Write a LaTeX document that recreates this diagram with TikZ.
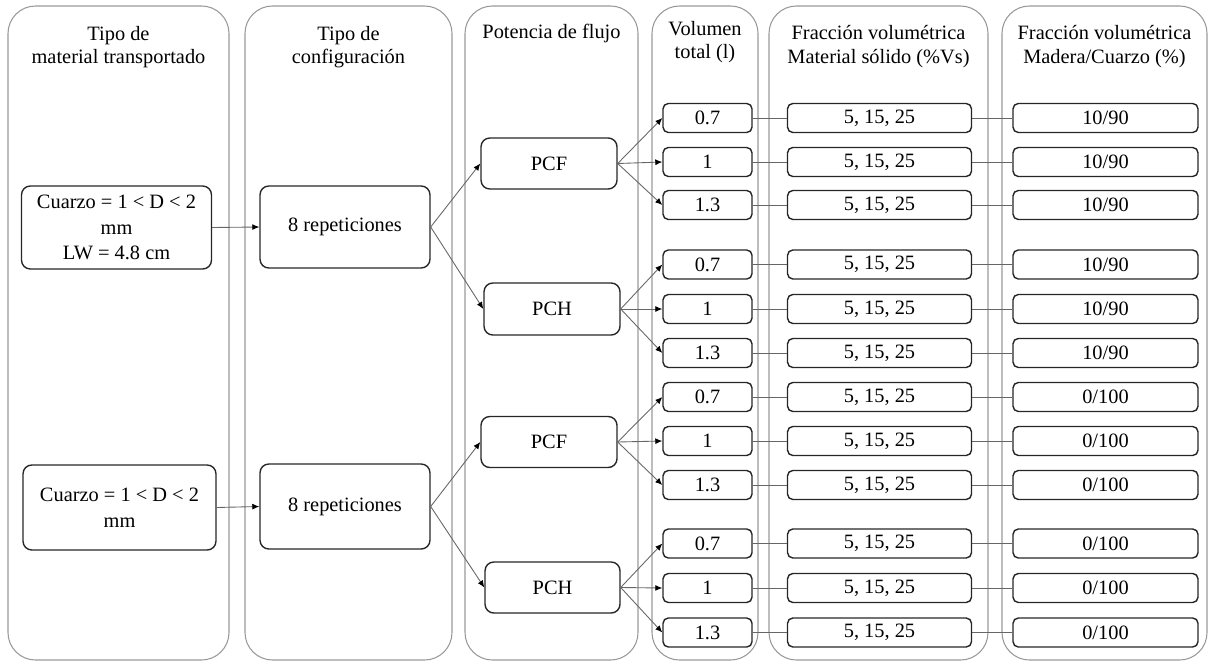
\documentclass[tikz,border=0pt]{standalone}
\usepackage{fontspec}
\setmainfont{Liberation Serif}
\usetikzlibrary{arrows.meta}
\begin{document}
\begin{tikzpicture}[x=0.02cm,y=-0.02cm,
  col/.style={draw=black!40, line width=0.6pt, rounded corners=0.55cm},
  head/.style={align=center, inner sep=0pt, font=\fontsize{11.6pt}{13.4pt}\selectfont},
  bigbox/.style={draw=black!85, line width=0.8pt, rounded corners=5pt, inner sep=0pt, align=center, font=\fontsize{11.6pt}{14.6pt}\selectfont},
  sbox/.style={draw=black!85, line width=0.8pt, rounded corners=3pt, inner sep=0pt, minimum height=0.58cm, align=center, font=\fontsize{11.6pt}{13.4pt}\selectfont},
  conn/.style={draw=black!60, line width=0.5pt},
  arr/.style={conn, -{Latex[length=4pt,width=3.4pt,color=black]}}]
\useasboundingbox (0,0) rectangle (1209,662);
% columns
\draw[col] (8,6) rectangle (229,660);
\draw[col] (245,6) rectangle (452,660);
\draw[col] (465,6) rectangle (638,660);
\draw[col] (652,6) rectangle (758,660);
\draw[col] (769,6) rectangle (988,660);
\draw[col] (1002,6) rectangle (1207,660);
% headers
\node[head] (h1) at (118.5,47) {Tipo de\\material transportado};
\node[head] (h2) at (348.5,47) {Tipo de\\configuración};
\node[head] (h3) at (551.5,33) {Potencia de flujo};
\node[head] (h4) at (705,42) {Volumen\\total (l)};
\node[head] (h5) at (878.5,46.5) {Fracción volumétrica\\Material sólido (\%Vs)};
\node[head] (h6) at (1104.5,46.5) {Fracción volumétrica\\Madera/Cuarzo (\%)};
% column 1
\node[bigbox, minimum width=3.8cm, minimum height=1.66cm] (m1) at (116.5,227.5) {Cuarzo = 1 < D < 2\\mm\\LW = 4.8 cm};
\node[bigbox, minimum width=3.86cm, minimum height=1.7cm] (m2) at (119.5,507.5) {Cuarzo = 1 < D < 2\\mm};
% column 2
\node[bigbox, minimum width=3.4cm, minimum height=1.64cm] (c1) at (345,227) {8 repeticiones};
\node[bigbox, minimum width=3.4cm, minimum height=1.7cm] (c2) at (345,506.5) {8 repeticiones};
% column 3
\node[bigbox, minimum width=2.72cm, minimum height=1.02cm] (p1) at (549,163.5) {PCF};
\node[bigbox, minimum width=2.72cm, minimum height=1.04cm] (p2) at (552,309) {PCH};
\node[bigbox, minimum width=2.72cm, minimum height=1.02cm] (p3) at (549,442) {PCF};
\node[bigbox, minimum width=2.7cm, minimum height=1.02cm] (p4) at (552.5,587.5) {PCH};
% rows
\foreach \y/\v [count=\i] in {118/0.7,162/1,205/1.3,264.5/0.7,309/1,353/1.3}{
  \node[sbox, minimum width=1.78cm] (v\i) at (707.5,\y) {\v};
  \node[sbox, minimum width=3.68cm] (s\i) at (879.5,\y) {5, 15, 25};
  \node[sbox, minimum width=3.7cm] (f\i) at (1105.5,\y) {10/90};
  \draw[conn] (v\i.east) -- (s\i.west);
  \draw[conn] (s\i.east) -- (f\i.west);
}
\foreach \y/\v [count=\i from 7] in {397/0.7,441/1,485/1.3,543.5/0.7,588/1,632.5/1.3}{
  \node[sbox, minimum width=1.78cm] (v\i) at (707.5,\y) {\v};
  \node[sbox, minimum width=3.68cm] (s\i) at (879.5,\y) {5, 15, 25};
  \node[sbox, minimum width=3.7cm] (f\i) at (1105.5,\y) {0/100};
  \draw[conn] (v\i.east) -- (s\i.west);
  \draw[conn] (s\i.east) -- (f\i.west);
}
% arrows
\draw[arr] (m1.east) -- (c1.west);
\draw[arr] (m2.east) -- (c2.west);
\draw[arr] (c1.east) -- (p1.west);
\draw[arr] (c1.east) -- (p2.west);
\draw[arr] (c2.east) -- (p3.west);
\draw[arr] (c2.east) -- (p4.west);
\foreach \i in {1,2,3} \draw[arr] (p1.east) -- (v\i.west);
\foreach \i in {4,5,6} \draw[arr] (p2.east) -- (v\i.west);
\foreach \i in {7,8,9} \draw[arr] (p3.east) -- (v\i.west);
\foreach \i in {10,11,12} \draw[arr] (p4.east) -- (v\i.west);
\end{tikzpicture}
\end{document}
